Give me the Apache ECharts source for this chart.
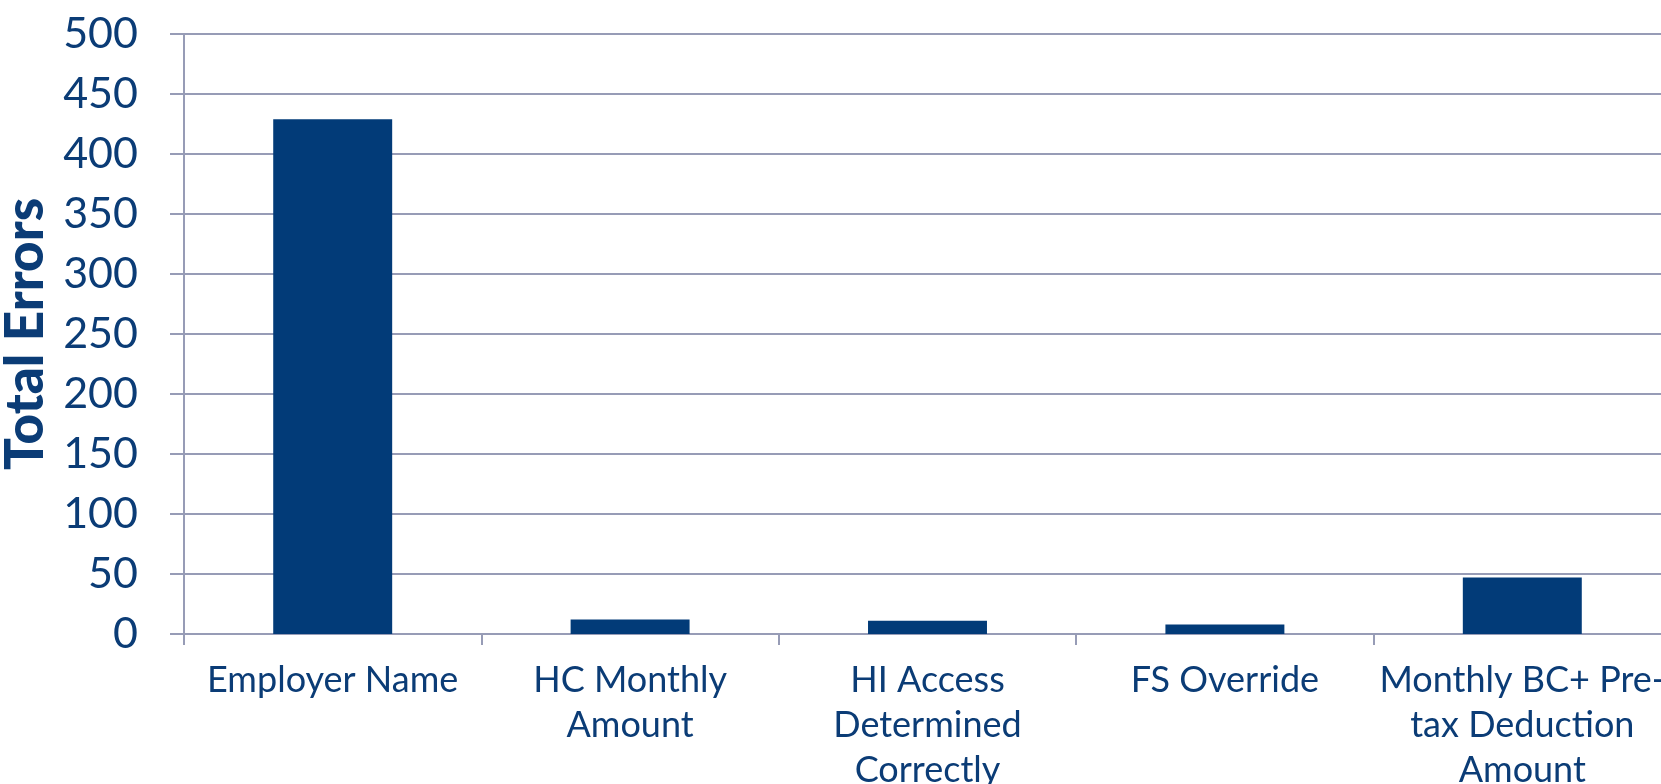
<!DOCTYPE html>
<html>
<head>
<meta charset="utf-8">
<script src="https://cdn.jsdelivr.net/npm/echarts@6/dist/echarts.min.js"></script>
<style>
html,body{margin:0;padding:0;background:#fff;}
#chart{width:1661px;height:784px;}
</style>
</head>
<body>
<div id="chart"></div>
<script>
const categories = [
  'Employer Name',
  'HC Monthly\nAmount',
  'HI Access\nDetermined\nCorrectly',
  'FS Override',
  'Monthly BC+ Pre-\ntax Deduction\nAmount'
];
const totalErrors = [429, 12, 11, 8, 47];
const yAxisName = 'Total Errors';

const textColor = '#0b3c76';
const barColor = '#023b78';
const lineColor = '#979cb6';
const fontFamily = 'Lato, "Open Sans", sans-serif';

const chart = echarts.init(document.getElementById('chart'), null, {renderer: 'canvas'});
chart.setOption({
  animation: false,
  backgroundColor: '#ffffff',
  grid: {left: 184, right: -10, top: 34, bottom: 150, containLabel: false, outerBoundsMode: 'none'},
  xAxis: {
    type: 'category',
    data: categories,
    boundaryGap: true,
    axisLine: {show: true, lineStyle: {color: lineColor, width: 2}},
    axisTick: {show: true, length: 11, alignWithLabel: false, lineStyle: {color: lineColor, width: 2}},
    axisLabel: {
      color: textColor, fontFamily: fontFamily, fontSize: 36,
      lineHeight: 45, margin: 24, interval: 0
    }
  },
  yAxis: {
    type: 'value',
    min: 0, max: 500, interval: 50,
    name: yAxisName,
    nameLocation: 'middle',
    nameGap: 125,
    nameRotate: 90,
    nameTextStyle: {color: textColor, fontFamily: fontFamily, fontSize: 53, fontWeight: 900},
    axisLine: {show: true, lineStyle: {color: lineColor, width: 2}},
    axisTick: {show: true, length: 14, lineStyle: {color: lineColor, width: 2}},
    splitLine: {show: true, lineStyle: {color: lineColor, width: 2}},
    axisLabel: {color: textColor, fontFamily: fontFamily, fontSize: 43, margin: 46}
  },
  series: [{
    type: 'bar',
    data: totalErrors,
    barWidth: '40%',
    itemStyle: {color: barColor}
  }]
});
</script>
</body>
</html>
